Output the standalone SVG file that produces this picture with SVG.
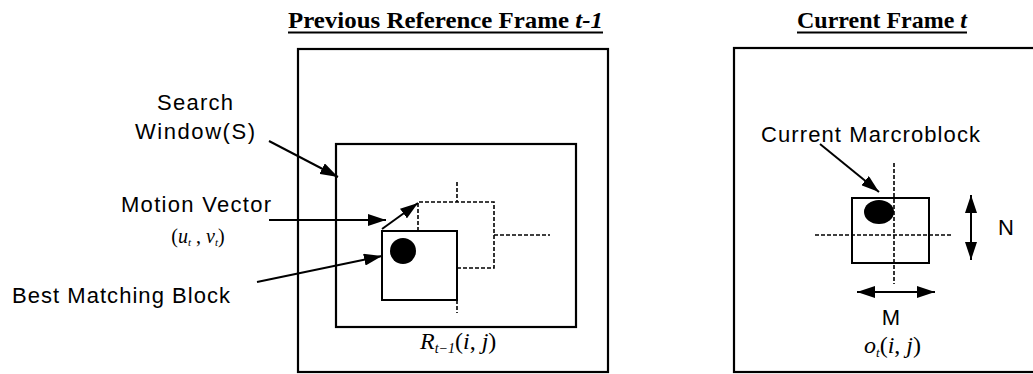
<svg xmlns="http://www.w3.org/2000/svg" width="1033" height="374" viewBox="0 0 1033 374">
<style>
.frame{fill:none;stroke:#000;stroke-width:2.2}
.blk{fill:none;stroke:#000;stroke-width:2}
.dash{fill:none;stroke:#000;stroke-width:1.6;stroke-dasharray:4 2}
.conn{fill:none;stroke:#000;stroke-width:2}
.lbl{font-family:"Liberation Sans",Arial,sans-serif;font-size:22px;fill:#000}
.ttl{font-family:"Liberation Serif","Times New Roman",serif;font-size:23px;font-weight:bold;fill:#000}
.math{font-family:"Liberation Serif","Times New Roman",serif;font-style:italic;fill:#000}
</style>
<defs>
<marker id="ah" viewBox="0 0 18 12" refX="18" refY="6" markerWidth="18" markerHeight="12" markerUnits="userSpaceOnUse" orient="auto-start-reverse">
<path d="M0,0 L18,6 L0,12 Z" fill="#000"/>
</marker>
</defs>

<g id="title-prev">
<text class="ttl" x="288" y="28" textLength="315" lengthAdjust="spacingAndGlyphs">Previous Reference Frame <tspan font-style="italic">t-1</tspan></text>
<line x1="288" y1="32.5" x2="603" y2="32.5" stroke="#000" stroke-width="1.8"/>
</g>
<g id="title-cur">
<text class="ttl" x="797" y="28" textLength="170" lengthAdjust="spacingAndGlyphs">Current Frame <tspan font-style="italic">t</tspan></text>
<line x1="797" y1="32.5" x2="967" y2="32.5" stroke="#000" stroke-width="1.8"/>
</g>

<g id="prev-frame"><rect class="frame" x="298" y="49" width="310" height="323"/></g>
<g id="search-window"><rect class="frame" x="336" y="144" width="240" height="183"/></g>
<g id="candidate-block">
<path class="dash" d="M418,231 V202 H494 V268 H457"/>
<line class="dash" x1="457" y1="182" x2="457" y2="202"/>
<line class="dash" x1="494" y1="235" x2="550" y2="235"/>
<line class="dash" x1="457" y1="300" x2="457" y2="313"/>
</g>
<g id="best-block">
<rect class="blk" x="382" y="231" width="75" height="69"/>
<ellipse cx="403" cy="251" rx="13" ry="13" fill="#000"/>
</g>
<g id="r-label">
<text class="math" x="420" y="349" font-size="24">R<tspan font-size="14" dy="4">t−1</tspan><tspan dy="-4" font-style="normal">(</tspan>i<tspan font-style="normal">, </tspan>j<tspan font-style="normal">)</tspan></text>
</g>

<g id="label-search">
<text class="lbl" x="195" y="110" text-anchor="middle" textLength="76" lengthAdjust="spacing">Search</text>
<text class="lbl" x="195" y="139" text-anchor="middle" textLength="120" lengthAdjust="spacing">Window(S)</text>
</g>
<g id="label-mv">
<text class="lbl" x="196" y="212" text-anchor="middle" textLength="150" lengthAdjust="spacing">Motion Vector</text>
<text class="math" x="198" y="243" font-size="20" text-anchor="middle"><tspan font-style="normal">(</tspan>u<tspan font-size="11" dy="3">t</tspan><tspan dy="-3" font-style="normal"> , </tspan>v<tspan font-size="11" dy="3">t</tspan><tspan dy="-3" font-style="normal">)</tspan></text>
</g>
<g id="label-best">
<text class="lbl" x="12" y="303" textLength="218" lengthAdjust="spacing">Best Matching Block</text>
</g>

<g id="cur-frame"><rect class="frame" x="734" y="48" width="310" height="324"/></g>
<g id="cur-block">
<line class="dash" x1="894" y1="163" x2="894" y2="284"/>
<line class="dash" x1="815" y1="235" x2="952" y2="235"/>
<rect class="blk" x="852" y="198" width="77" height="65"/>
<ellipse cx="879" cy="212" rx="15" ry="12" fill="#000"/>
</g>
<g id="label-cur">
<text class="lbl" x="761" y="142" textLength="219" lengthAdjust="spacing">Current Marcroblock</text>
</g>
<g id="label-n"><text class="lbl" x="1006" y="235" text-anchor="middle">N</text></g>
<g id="label-m"><text class="lbl" x="891" y="325" font-size="21" text-anchor="middle">M</text></g>
<g id="o-label">
<text class="math" x="864" y="353" font-size="24">o<tspan font-size="13" dy="4">t</tspan><tspan dy="-4" font-style="normal">(</tspan>i<tspan font-style="normal">, </tspan>j<tspan font-style="normal">)</tspan></text>
</g>

<g id="connectors">
<line class="conn" x1="269" y1="141" x2="338" y2="177" marker-end="url(#ah)"/>
<line class="conn" x1="269" y1="220" x2="386" y2="220" marker-end="url(#ah)"/>
<line class="conn" x1="382" y1="229" x2="418" y2="203" marker-end="url(#ah)"/>
<line class="conn" x1="257" y1="282" x2="382" y2="256" marker-end="url(#ah)"/>
<line class="conn" x1="820" y1="144" x2="879" y2="192" marker-end="url(#ah)"/>
<line class="conn" x1="971" y1="195" x2="971" y2="260" marker-start="url(#ah)" marker-end="url(#ah)"/>
<line class="conn" x1="857" y1="292" x2="935" y2="292" marker-start="url(#ah)" marker-end="url(#ah)"/>
</g>
</svg>
